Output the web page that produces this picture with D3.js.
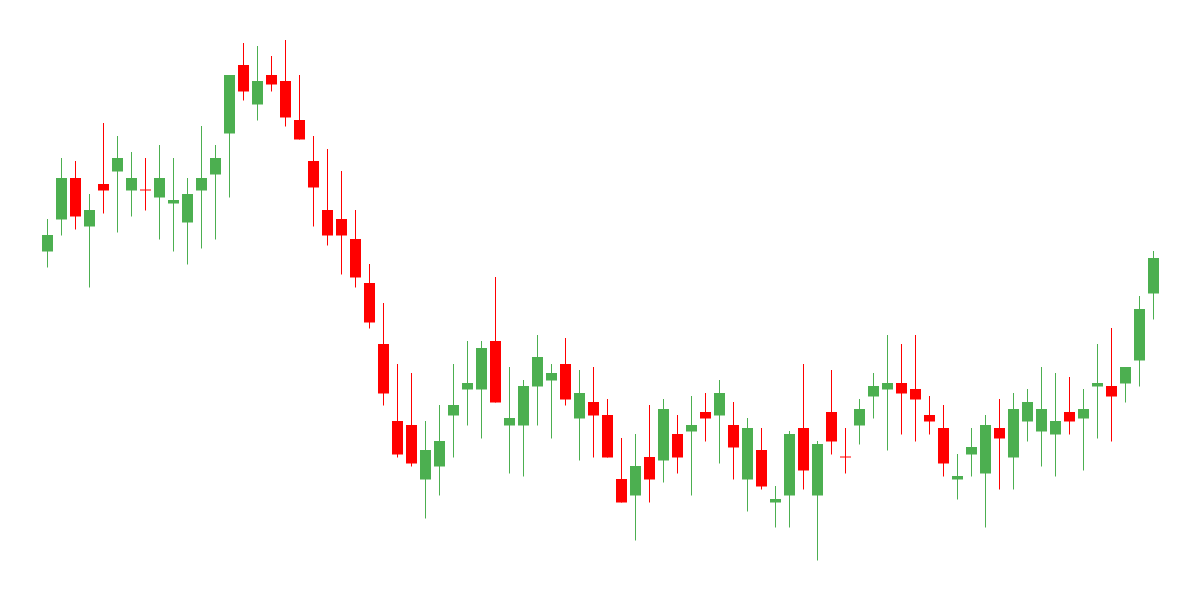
<!DOCTYPE html>
<html>
<head>
<meta charset="utf-8">
<style>
  html, body { margin: 0; padding: 0; background: #fff; }
  svg { display: block; }
</style>
<script src="https://cdn.jsdelivr.net/npm/d3@7.9.0/dist/d3.min.js"></script>
</head>
<body>
<svg id="chart" width="1200" height="600"></svg>
<script>
// -------------------------
// Data (one entry per session)
// -------------------------
const openValues = [
  99.7, 106.1, 114.4, 104.7, 113.2, 115.7, 111.9, 112.1, 110.5, 109.3,
  105.5, 111.9, 115.1, 123.3, 137.0, 129.1, 135.0, 133.8, 126.0, 117.8,
  108.0, 106.2, 102.2, 93.4, 81.2, 65.8, 65.0, 54.1, 56.7, 66.9,
  72.1, 72.1, 81.8, 64.9, 64.9, 72.7, 73.9, 77.2, 66.3, 69.6,
  67.0, 54.2, 50.9, 58.6, 57.9, 63.2, 63.7, 67.6, 66.9, 65.0,
  54.1, 60.0, 49.5, 50.9, 64.4, 50.9, 67.6, 58.7, 64.9, 70.7,
  72.1, 73.4, 72.2, 67.0, 64.4, 54.1, 59.1, 55.3, 64.4, 58.5,
  65.7, 63.7, 63.1, 67.6, 66.3, 72.7, 72.8, 73.3, 77.9, 91.3
];
const highValues = [
  106.2, 118.4, 117.8, 111.2, 125.4, 122.8, 119.6, 118.4, 121.0, 118.4,
  114.4, 124.8, 121.0, 135.0, 141.4, 140.8, 138.8, 142.0, 135.0, 122.8,
  120.2, 115.8, 108.0, 97.2, 89.4, 77.2, 75.4, 65.8, 69.0, 77.2,
  81.8, 81.8, 94.6, 76.6, 74.0, 83.0, 77.2, 82.4, 76.0, 76.6,
  70.2, 62.4, 63.2, 69.0, 70.2, 67.0, 70.8, 71.4, 74.0, 69.6,
  66.4, 64.4, 52.8, 63.8, 77.2, 61.8, 76.0, 64.4, 70.2, 75.4,
  83.0, 81.2, 83.0, 70.8, 69.0, 59.2, 64.4, 67.0, 70.2, 71.4,
  72.2, 76.6, 75.4, 74.6, 72.2, 81.2, 84.4, 76.6, 90.8, 99.8
];
const lowValues = [
  96.5, 102.9, 104.1, 92.5, 107.3, 103.5, 106.7, 107.9, 102.1, 99.7,
  97.1, 100.3, 102.1, 110.5, 129.9, 125.9, 131.7, 124.7, 122.1, 104.7,
  100.9, 95.1, 92.5, 84.3, 68.9, 58.5, 56.7, 46.3, 50.9, 58.5,
  64.9, 62.3, 69.5, 55.3, 54.7, 64.9, 62.3, 68.9, 57.9, 58.5,
  58.5, 49.5, 41.9, 49.5, 53.5, 55.3, 50.9, 61.7, 57.3, 54.1,
  47.7, 52.1, 44.5, 44.5, 52.1, 37.9, 59.1, 55.3, 61.1, 66.3,
  59.9, 63.1, 61.7, 63.1, 54.7, 50.1, 54.7, 44.5, 52.1, 52.1,
  61.7, 56.7, 54.7, 63.1, 55.9, 62.3, 61.7, 69.5, 72.7, 86.1
];
const closeValues = [
  103.0, 114.4, 106.7, 108.0, 111.9, 118.4, 114.4, 111.9, 114.4, 110.0,
  111.2, 114.4, 118.4, 135.0, 131.7, 133.8, 133.1, 126.5, 122.1, 112.5,
  102.9, 102.9, 94.5, 85.5, 71.3, 59.1, 57.3, 60.0, 61.8, 69.0,
  73.4, 80.4, 69.5, 66.4, 72.8, 78.6, 75.4, 70.1, 71.4, 66.9,
  58.5, 49.5, 56.8, 54.1, 68.2, 58.5, 65.0, 66.3, 71.4, 60.5,
  64.4, 52.7, 50.2, 63.2, 55.9, 61.2, 61.7, 58.5, 68.2, 72.8,
  73.4, 71.3, 70.1, 65.7, 57.3, 54.8, 60.6, 65.0, 62.3, 68.2,
  69.6, 68.2, 65.8, 65.7, 68.2, 73.4, 70.7, 76.6, 88.2, 98.4
];

const upColor = '#4caf50';
const downColor = '#ff0000';

// -------------------------
// Build rows
// -------------------------
const candles = openValues.map((o, i) => ({
  index: i,
  open: o,
  high: highValues[i],
  low: lowValues[i],
  close: closeValues[i]
}));

const width = 1200;
const height = 600;

const x = d3.scaleBand()
  .domain(candles.map(d => d.index))
  .range([40.5, 1160.5])
  .paddingInner(3 / 14)
  .paddingOuter(3 / 28);

const y = d3.scaleLinear()
  .domain([30, 150])
  .range([height, 0]);

const svg = d3.select('#chart');

const g = svg.selectAll('g.candle')
  .data(candles)
  .join('g')
  .attr('class', 'candle');

const colorOf = d => (d.close >= d.open ? upColor : downColor);
const cx = d => Math.round(x(d.index) + x.bandwidth() / 2) + 0.5 - 1;

// wicks
g.append('line')
  .attr('x1', cx)
  .attr('x2', cx)
  .attr('y1', d => y(d.high))
  .attr('y2', d => y(d.low))
  .attr('stroke', colorOf)
  .attr('stroke-width', 1);

// bodies
g.append('rect')
  .attr('x', d => x(d.index))
  .attr('width', x.bandwidth())
  .attr('y', d => y(Math.max(d.open, d.close)))
  .attr('height', d => Math.max(1, Math.abs(y(d.open) - y(d.close))))
  .attr('fill', colorOf);
</script>
</body>
</html>
